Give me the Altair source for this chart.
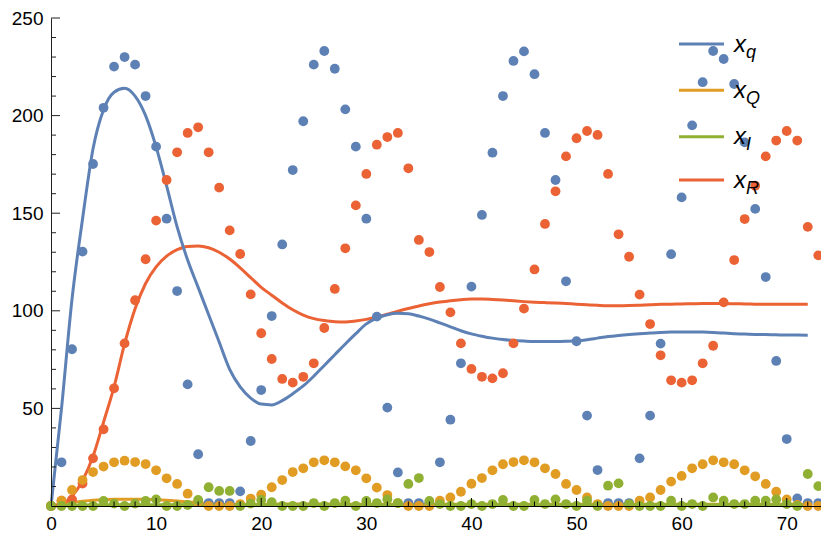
import altair as alt
import pandas as pd

# ---------------- data ----------------
dot_x = list(range(75))
xq_dots = [0, 22.4, 80.3, 130.3, 175.2, 204.0, 225.1, 230.0, 226.1, 210.0,
           184.1, 147.2, 110.1, 62.3, 26.5, 1.5, 1.5, 1.5, 7.5, 33.3,
           59.4, 97.3, 134.0, 172.1, 197.1, 226.1, 233.1, 224.0, 203.2, 184.1,
           147.2, 97.0, 50.4, 17.2, 1.5, 1.5, 2.0, 22.4, 44.2, 73.1,
           112.4, 149.1, 181.0, 210.0, 228.0, 232.9, 221.2, 191.1, 167.0, 115.1,
           84.4, 46.3, 18.4, 1.5, 1.5, 1.5, 24.4, 46.3, 83.2, 129.0,
           158.1, 195.0, 217.1, 233.1, 229.0, 216.2, 186.3, 152.2, 117.3, 74.3,
           34.3, 3.9, 1.5, 1.5, 13.5]
xQ_dots = [0, 2.7, 8.2, 13.3, 17.4, 20.2, 22.4, 23.2, 22.5, 21.5,
           18.3, 14.2, 11.3, 6.3, 2.2, 0, 0, 0, 1.0, 3.8,
           5.8, 9.6, 13.3, 17.4, 19.3, 22.4, 23.4, 22.4, 20.3, 18.3,
           14.2, 9.4, 5.6, 1.5, 0, 0, 0, 2.7, 4.4, 7.3,
           11.4, 14.3, 18.3, 21.4, 22.5, 23.4, 22.4, 19.3, 16.4, 11.3,
           8.2, 4.4, 1.0, 0, 0, 0, 2.7, 4.4, 8.2, 12.5,
           15.4, 19.3, 21.4, 23.4, 22.4, 21.4, 18.3, 15.2, 11.3, 7.3,
           3.4, 0.5, 0, 0, 0]
xI_dots = [0, 0, 0, 0, 0, 2.6, 1.2, 0, 1.2, 2.6,
           3.4, 0, 0, 0.5, 3.1, 9.6, 7.7, 7.7, 0, 1.2,
           3.1, 2.0, 0, 0, 0, 1.5, 0, 1.5, 2.7, 0,
           2.6, 1.5, 3.4, 1.5, 11.3, 14.3, 2.6, 1.0, 0, 0,
           1.0, 0, 1.0, 3.1, 0, 0, 3.1, 1.0, 3.4, 1.0,
           0, 2.7, 0, 10.4, 11.6, 1.0, 0, 0, 0, 2.7,
           0, 1.0, 0, 4.4, 2.7, 1.0, 1.0, 2.7, 2.7, 3.4,
           1.0, 0, 16.4, 10.2, 0]
xR_dots = [0, 2.7, 3.4, 11.5, 24.4, 39.3, 60.3, 83.3, 105.4, 126.4,
           146.2, 167.0, 181.2, 191.1, 194.0, 181.2, 163.1, 141.2, 129.1, 108.4,
           88.5, 75.3, 65.1, 63.2, 66.2, 73.1, 91.2, 111.2, 132.0, 154.0,
           170.1, 185.1, 189.0, 191.1, 173.0, 136.3, 130.1, 112.2, 99.2, 83.3,
           70.2, 66.2, 65.4, 68.0, 83.3, 101.1, 121.2, 144.5, 161.2, 179.1,
           188.4, 192.1, 190.1, 170.1, 139.2, 127.7, 108.3, 93.2, 77.2, 64.4,
           63.2, 64.4, 73.1, 82.1, 104.3, 126.0, 147.0, 164.1, 179.1, 187.2,
           192.1, 187.2, 143.0, 128.4, 120.4]

line_x = list(range(73))
xq_line = [0, 50, 106, 147, 183, 203, 212, 214, 210, 200,
           184, 164, 143, 126, 112, 98, 84, 70, 61, 55.3,
           52.2, 51.8, 54, 57.5, 61.5, 66.5, 72, 77.5, 83, 88.3,
           93.3, 96.3, 98, 98.7, 98.5, 97.3, 95.7, 93.8, 91.8, 89.8,
           88.2, 87, 86, 85.3, 84.8, 84.5, 84.3, 84.3, 84.3, 84.4,
           84.6, 85.2, 86, 86.8, 87.4, 87.9, 88.3, 88.6, 88.9, 89.1,
           89.2, 89.2, 89.1, 88.9, 88.6, 88.3, 88.1, 87.9, 87.8, 87.7,
           87.6, 87.6, 87.5]
xQ_line = [0, 1.0, 1.8, 2.4, 2.9, 3.2, 3.4, 3.5, 3.5, 3.4,
           3.2, 2.9, 2.5, 2.1, 1.7, 1.3, 1.0, 0.8, 0.7, 0.7,
           0.8, 0.9, 1.0, 1.0, 1.0, 1.0, 1.0, 1.0, 1.0, 0.9,
           0.9, 0.9, 0.9, 0.9, 0.9, 0.9, 0.9, 0.9, 0.9, 0.9,
           0.9, 0.9, 0.9, 0.9, 0.9, 0.9, 0.9, 0.9, 0.9, 0.9,
           0.9, 0.9, 0.9, 0.9, 0.9, 0.9, 0.9, 0.9, 0.9, 0.9,
           0.9, 0.9, 0.9, 0.9, 0.9, 0.9, 0.9, 0.9, 0.9, 0.9,
           0.9, 0.9, 0.9]
xI_line = [0, 0.2, 0.35, 0.45, 0.5, 0.55, 0.6, 0.6, 0.6, 0.6,
           0.6, 0.6, 0.6, 0.6, 0.6, 0.6, 0.6, 0.6, 0.6, 0.6,
           0.6, 0.6, 0.6, 0.6, 0.6, 0.6, 0.6, 0.6, 0.6, 0.6,
           0.6, 0.6, 0.6, 0.6, 0.6, 0.6, 0.6, 0.6, 0.6, 0.6,
           0.6, 0.6, 0.6, 0.6, 0.6, 0.6, 0.6, 0.6, 0.6, 0.6,
           0.6, 0.6, 0.6, 0.6, 0.6, 0.6, 0.6, 0.6, 0.6, 0.6,
           0.6, 0.6, 0.6, 0.6, 0.6, 0.6, 0.6, 0.6, 0.6, 0.6,
           0.6, 0.6, 0.6]
xR_line = [0, 1, 5, 13, 25.5, 43, 61, 83, 101, 114,
           122.5, 128, 131.3, 133, 133.2, 132.3, 130, 126.5, 122, 117,
           112, 108, 104, 100.5, 97.8, 96, 95, 94.4, 94.3, 94.8,
           95.6, 96.8, 98.2, 99.8, 101.2, 102.5, 103.6, 104.5, 105.2, 105.7,
           106, 106, 105.8, 105.5, 105.1, 104.7, 104.4, 104.2, 104, 103.7,
           103.4, 103.1, 102.8, 102.6, 102.6, 102.7, 102.9, 103.1, 103.3, 103.4,
           103.5, 103.6, 103.7, 103.7, 103.7, 103.6, 103.5, 103.4, 103.3, 103.3,
           103.3, 103.3, 103.3]

x_labels = [0, 10, 20, 30, 40, 50, 60, 70]
y_labels = [50, 100, 150, 200, 250]
x_major_ticks = [10, 20, 30, 40, 50, 60, 70]
x_minor_ticks = [2, 4, 6, 8, 12, 14, 16, 18, 22, 24, 26, 28, 32, 34, 36, 38,
                 42, 44, 46, 48, 52, 54, 56, 58, 62, 64, 66, 68, 72]
y_major_ticks = [50, 100, 150, 200, 250]
y_minor_ticks = [10, 20, 30, 40, 60, 70, 80, 90, 110, 120, 130, 140,
                 160, 170, 180, 190, 210, 220, 230, 240]

legend_subs = ["q", "Q", "I", "R"]
colors = ["#5E81B5", "#E19C24", "#8FB032", "#EB6235"]

# ---------------- chart ----------------
W, H = 770, 488
FONT = "Liberation Sans"
x_scale = alt.Scale(domain=[0, 73.26], nice=False, zero=False)
y_scale = alt.Scale(domain=[0, 250], nice=False, zero=False)
x_axis = alt.Axis(values=x_labels, title=None, grid=False, ticks=False,
                  domainColor="black", domainWidth=1, labelFont=FONT,
                  labelFontSize=19, labelColor="black", labelPadding=8,
                  labelFlush=False, labelOverlap=False, zindex=1, format="d")
y_axis = alt.Axis(values=y_labels, title=None, grid=False, ticks=False,
                  domainColor="#222222", domainWidth=1, labelFont=FONT,
                  labelFontSize=19, labelColor="black", labelPadding=8,
                  labelFlush=False, labelOverlap=False, zindex=1, format="d")


def X():
    return alt.X("x:Q", scale=x_scale, axis=x_axis)


def Y():
    return alt.Y("v:Q", scale=y_scale, axis=y_axis)


layers = []
line_sets = [xq_line, xQ_line, xI_line, xR_line]
dot_sets = [xq_dots, xQ_dots, xI_dots, xR_dots]

# lines (orange and blue drawn above the near-zero ones)
for idx in [1, 2, 3, 0]:
    df = pd.DataFrame({"x": line_x, "v": line_sets[idx]})
    layers.append(
        alt.Chart(df).mark_line(color=colors[idx], strokeWidth=3,
                                interpolate="monotone")
        .encode(x=X(), y=Y())
    )

# dots
for idx in [0, 3, 1, 2]:
    df = pd.DataFrame({"x": dot_x, "v": dot_sets[idx]})
    layers.append(
        alt.Chart(df).mark_circle(color=colors[idx], size=96, opacity=1)
        .encode(x=X(), y=Y())
    )

# inward ticks
layers.append(alt.Chart(pd.DataFrame({"x": x_major_ticks})).mark_rule(color="black", strokeWidth=1)
              .encode(x=X(), y=alt.value(H), y2=alt.value(H - 8)))
layers.append(alt.Chart(pd.DataFrame({"x": x_minor_ticks})).mark_rule(color="black", strokeWidth=1)
              .encode(x=X(), y=alt.value(H), y2=alt.value(H - 4.5)))
layers.append(alt.Chart(pd.DataFrame({"v": y_major_ticks})).mark_rule(color="#222222", strokeWidth=1)
              .encode(y=Y(), x=alt.value(0), x2=alt.value(9)))
layers.append(alt.Chart(pd.DataFrame({"v": y_minor_ticks})).mark_rule(color="#222222", strokeWidth=1)
              .encode(y=Y(), x=alt.value(0), x2=alt.value(5)))

# legend
one = alt.Data(values=[{"k": 1}])
row_y = [26, 72.3, 118.7, 162]
for i, sub in enumerate(legend_subs):
    ry = row_y[i]
    layers.append(alt.Chart(one).mark_rule(color=colors[i], strokeWidth=3)
                  .encode(x=alt.value(628), x2=alt.value(673), y=alt.value(ry)))
    layers.append(alt.Chart(one).mark_text(text="x", font=FONT, fontSize=24,
                                           fontStyle="italic", align="left",
                                           baseline="alphabetic", color="black")
                  .encode(x=alt.value(683), y=alt.value(ry + 7.5)))
    layers.append(alt.Chart(one).mark_text(text=sub, font=FONT, fontSize=18,
                                           fontStyle="italic", align="left",
                                           baseline="alphabetic", color="black")
                  .encode(x=alt.value(695), y=alt.value(ry + 13.5)))

chart = alt.layer(*layers).properties(
    width=W, height=H,
    padding={"left": 43, "top": 10, "right": 0, "bottom": 27},
    autosize=alt.AutoSizeParams(type="none"),
    background="white",
).configure_view(stroke=None)

chart.save("out.html", embed_options={"renderer": "svg", "actions": False})
